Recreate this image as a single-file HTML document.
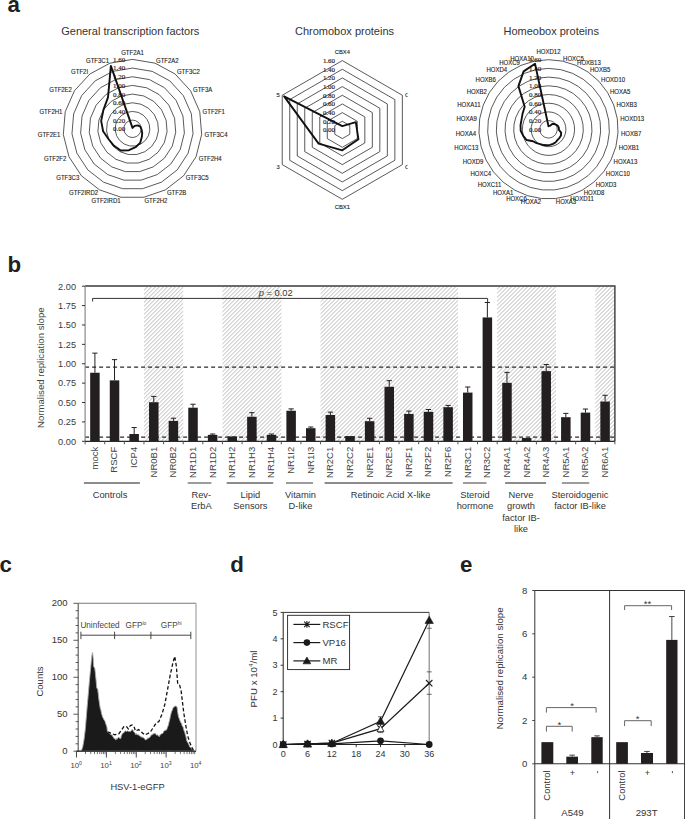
<!DOCTYPE html>
<html><head><meta charset="utf-8"><style>
html,body{margin:0;padding:0;background:#fff;}
svg{display:block;font-family:"Liberation Sans", sans-serif;}
</style></head><body>
<svg width="685" height="819" viewBox="0 0 685 819">
<rect width="685" height="819" fill="#fff"/>
<text x="7.6" y="12" font-size="22.3" font-weight="bold" fill="#231f20">a</text>
<text x="7.5" y="271.7" font-size="22.3" font-weight="bold" fill="#231f20">b</text>
<text x="-0.5" y="571.7" font-size="22.3" font-weight="bold" fill="#231f20">c</text>
<text x="230.3" y="571.7" font-size="22.3" font-weight="bold" fill="#231f20">d</text>
<text x="460.1" y="571.7" font-size="22.3" font-weight="bold" fill="#231f20">e</text>
<text x="130.3" y="35.2" font-size="11" text-anchor="middle" fill="#333">General transcription factors</text>
<polygon points="132.5,120.13 135.32,120.6 137.83,121.95 139.76,124.06 140.91,126.67 141.15,129.52 140.44,132.28 138.88,134.68 136.63,136.43 133.93,137.36 131.07,137.36 128.37,136.43 126.12,134.68 124.56,132.28 123.85,129.52 124.09,126.67 125.24,124.06 127.17,121.95 129.68,120.6" fill="none" stroke="#222" stroke-width="0.75"/>
<polygon points="132.5,111.45 138.13,112.39 143.16,115.11 147.02,119.31 149.32,124.54 149.79,130.23 148.39,135.77 145.26,140.55 140.76,144.06 135.36,145.91 129.64,145.91 124.24,144.06 119.74,140.55 116.61,135.77 115.21,130.23 115.68,124.54 117.98,119.31 121.84,115.11 126.87,112.39" fill="none" stroke="#222" stroke-width="0.75"/>
<polygon points="132.5,102.78 140.95,104.19 148.48,108.26 154.29,114.57 157.73,122.41 158.44,130.95 156.33,139.25 151.65,146.43 144.89,151.69 136.78,154.47 128.22,154.47 120.11,151.69 113.35,146.43 108.67,139.25 106.56,130.95 107.27,122.41 110.71,114.57 116.52,108.26 124.05,104.19" fill="none" stroke="#222" stroke-width="0.75"/>
<polygon points="132.5,94.1 143.77,95.98 153.81,101.42 161.55,109.82 166.14,120.28 167.08,131.67 164.28,142.74 158.03,152.3 149.02,159.32 138.21,163.03 126.79,163.03 115.98,159.32 106.97,152.3 100.72,142.74 97.92,131.67 98.86,120.28 103.45,109.82 111.19,101.42 121.23,95.98" fill="none" stroke="#222" stroke-width="0.75"/>
<polygon points="132.5,85.43 146.58,87.78 159.14,94.57 168.81,105.08 174.55,118.15 175.73,132.38 172.22,146.22 164.41,158.18 153.14,166.95 139.64,171.58 125.36,171.58 111.86,166.95 100.59,158.18 92.78,146.22 89.27,132.38 90.45,118.15 96.19,105.08 105.86,94.57 118.42,87.78" fill="none" stroke="#222" stroke-width="0.75"/>
<polygon points="132.5,76.75 149.4,79.57 164.47,87.73 176.07,100.33 182.96,116.02 184.37,133.1 180.17,149.71 170.79,164.05 157.27,174.58 141.07,180.14 123.93,180.14 107.73,174.58 94.21,164.05 84.83,149.71 80.63,133.1 82.04,116.02 88.93,100.33 100.53,87.73 115.6,79.57" fill="none" stroke="#222" stroke-width="0.75"/>
<polygon points="132.5,68.08 152.22,71.37 169.8,80.88 183.34,95.59 191.37,113.89 193.02,133.81 188.11,153.19 177.18,169.93 161.4,182.21 142.5,188.7 122.5,188.7 103.6,182.21 87.82,169.93 76.89,153.19 71.98,133.81 73.63,113.89 81.66,95.59 95.2,80.88 112.78,71.37" fill="none" stroke="#222" stroke-width="0.75"/>
<polygon points="132.5,59.4 155.03,63.16 175.13,74.03 190.6,90.84 199.78,111.76 201.66,134.53 196.05,156.68 183.56,175.8 165.53,189.84 143.92,197.25 121.08,197.25 99.47,189.84 81.44,175.8 68.95,156.68 63.34,134.53 65.22,111.76 74.4,90.84 89.87,74.03 109.97,63.16" fill="none" stroke="#222" stroke-width="0.75"/>
<text x="125.3" y="131.2" font-family='"Liberation Serif", serif' font-size="6.6" textLength="12.2" lengthAdjust="spacingAndGlyphs" text-anchor="end" fill="#1e1e1e" stroke="#1e1e1e" stroke-width="0.15">0.00</text>
<text x="125.3" y="122.53" font-family='"Liberation Serif", serif' font-size="6.6" textLength="12.2" lengthAdjust="spacingAndGlyphs" text-anchor="end" fill="#1e1e1e" stroke="#1e1e1e" stroke-width="0.15">0.20</text>
<text x="125.3" y="113.85" font-family='"Liberation Serif", serif' font-size="6.6" textLength="12.2" lengthAdjust="spacingAndGlyphs" text-anchor="end" fill="#1e1e1e" stroke="#1e1e1e" stroke-width="0.15">0.40</text>
<text x="125.3" y="105.18" font-family='"Liberation Serif", serif' font-size="6.6" textLength="12.2" lengthAdjust="spacingAndGlyphs" text-anchor="end" fill="#1e1e1e" stroke="#1e1e1e" stroke-width="0.15">0.60</text>
<text x="125.3" y="96.5" font-family='"Liberation Serif", serif' font-size="6.6" textLength="12.2" lengthAdjust="spacingAndGlyphs" text-anchor="end" fill="#1e1e1e" stroke="#1e1e1e" stroke-width="0.15">0.80</text>
<text x="125.3" y="87.83" font-family='"Liberation Serif", serif' font-size="6.6" textLength="12.2" lengthAdjust="spacingAndGlyphs" text-anchor="end" fill="#1e1e1e" stroke="#1e1e1e" stroke-width="0.15">1.00</text>
<text x="125.3" y="79.15" font-family='"Liberation Serif", serif' font-size="6.6" textLength="12.2" lengthAdjust="spacingAndGlyphs" text-anchor="end" fill="#1e1e1e" stroke="#1e1e1e" stroke-width="0.15">1.20</text>
<text x="125.3" y="70.48" font-family='"Liberation Serif", serif' font-size="6.6" textLength="12.2" lengthAdjust="spacingAndGlyphs" text-anchor="end" fill="#1e1e1e" stroke="#1e1e1e" stroke-width="0.15">1.40</text>
<text x="125.3" y="61.8" font-family='"Liberation Serif", serif' font-size="6.6" textLength="12.2" lengthAdjust="spacingAndGlyphs" text-anchor="end" fill="#1e1e1e" stroke="#1e1e1e" stroke-width="0.15">1.60</text>
<polygon points="132.5,127.93 133.06,127.16 134.82,125.82 137.8,125.34 140.49,126.78 141.58,129.55 142.23,133.07 141.75,137.32 140.14,142.91 135.57,147.2 128.93,150.19 120.73,150.54 113.99,145.84 108.67,139.25 103.11,131.24 101.17,120.87 103.45,109.82 107.99,97.31 110.88,65.83" fill="none" stroke="#111" stroke-width="1.9" stroke-linejoin="round"/>
<text x="132.5" y="54.5" font-size="6.48" textLength="22.67" lengthAdjust="spacingAndGlyphs" text-anchor="middle" fill="#222" stroke="#222" stroke-width="0.12">GTF2A1</text>
<text x="155.98" y="63.12" font-size="6.48" textLength="22.67" lengthAdjust="spacingAndGlyphs" text-anchor="start" fill="#222" stroke="#222" stroke-width="0.12">GTF2A2</text>
<text x="176.91" y="74.45" font-size="6.48" textLength="23" lengthAdjust="spacingAndGlyphs" text-anchor="start" fill="#222" stroke="#222" stroke-width="0.12">GTF3C2</text>
<text x="193.03" y="91.96" font-size="6.48" textLength="19.34" lengthAdjust="spacingAndGlyphs" text-anchor="start" fill="#222" stroke="#222" stroke-width="0.12">GTF3A</text>
<text x="202.59" y="113.75" font-size="6.48" textLength="22.33" lengthAdjust="spacingAndGlyphs" text-anchor="start" fill="#222" stroke="#222" stroke-width="0.12">GTF2F1</text>
<text x="204.55" y="137.47" font-size="6.48" textLength="23" lengthAdjust="spacingAndGlyphs" text-anchor="start" fill="#222" stroke="#222" stroke-width="0.12">GTF3C4</text>
<text x="198.71" y="160.54" font-size="6.48" textLength="23" lengthAdjust="spacingAndGlyphs" text-anchor="start" fill="#222" stroke="#222" stroke-width="0.12">GTF2H4</text>
<text x="185.69" y="180.47" font-size="6.48" textLength="23" lengthAdjust="spacingAndGlyphs" text-anchor="start" fill="#222" stroke="#222" stroke-width="0.12">GTF3C5</text>
<text x="166.91" y="195.09" font-size="6.48" textLength="19.34" lengthAdjust="spacingAndGlyphs" text-anchor="start" fill="#222" stroke="#222" stroke-width="0.12">GTF2B</text>
<text x="144.4" y="202.81" font-size="6.48" textLength="23" lengthAdjust="spacingAndGlyphs" text-anchor="start" fill="#222" stroke="#222" stroke-width="0.12">GTF2H2</text>
<text x="120.6" y="202.81" font-size="6.48" textLength="29" lengthAdjust="spacingAndGlyphs" text-anchor="end" fill="#222" stroke="#222" stroke-width="0.12">GTF2IRD1</text>
<text x="98.09" y="195.09" font-size="6.48" textLength="29" lengthAdjust="spacingAndGlyphs" text-anchor="end" fill="#222" stroke="#222" stroke-width="0.12">GTF2IRD2</text>
<text x="79.31" y="180.47" font-size="6.48" textLength="23" lengthAdjust="spacingAndGlyphs" text-anchor="end" fill="#222" stroke="#222" stroke-width="0.12">GTF3C3</text>
<text x="66.29" y="160.54" font-size="6.48" textLength="22.33" lengthAdjust="spacingAndGlyphs" text-anchor="end" fill="#222" stroke="#222" stroke-width="0.12">GTF2F2</text>
<text x="60.45" y="137.47" font-size="6.48" textLength="22.67" lengthAdjust="spacingAndGlyphs" text-anchor="end" fill="#222" stroke="#222" stroke-width="0.12">GTF2E1</text>
<text x="62.41" y="113.75" font-size="6.48" textLength="23" lengthAdjust="spacingAndGlyphs" text-anchor="end" fill="#222" stroke="#222" stroke-width="0.12">GTF2H1</text>
<text x="71.97" y="91.96" font-size="6.48" textLength="22.67" lengthAdjust="spacingAndGlyphs" text-anchor="end" fill="#222" stroke="#222" stroke-width="0.12">GTF2E2</text>
<text x="88.09" y="74.45" font-size="6.48" textLength="17" lengthAdjust="spacingAndGlyphs" text-anchor="end" fill="#222" stroke="#222" stroke-width="0.12">GTF2I</text>
<text x="109.02" y="63.12" font-size="6.48" textLength="23" lengthAdjust="spacingAndGlyphs" text-anchor="end" fill="#222" stroke="#222" stroke-width="0.12">GTF3C1</text>
<defs><clipPath id="cbxclip"><rect x="276.3" y="40" width="131.2" height="180"/></clipPath></defs>
<text x="344.5" y="35.2" font-size="11" text-anchor="middle" fill="#333">Chromobox proteins</text>
<g clip-path="url(#cbxclip)">
<polygon points="342.3,121.28 349.81,125.61 349.81,134.28 342.3,138.62 334.79,134.28 334.79,125.61" fill="none" stroke="#222" stroke-width="0.75"/>
<polygon points="342.3,112.61 357.32,121.28 357.32,138.62 342.3,147.29 327.28,138.62 327.28,121.28" fill="none" stroke="#222" stroke-width="0.75"/>
<polygon points="342.3,103.94 364.83,116.94 364.83,142.95 342.3,155.96 319.77,142.96 319.77,116.94" fill="none" stroke="#222" stroke-width="0.75"/>
<polygon points="342.3,95.27 372.33,112.61 372.33,147.29 342.3,164.63 312.27,147.29 312.27,112.61" fill="none" stroke="#222" stroke-width="0.75"/>
<polygon points="342.3,86.6 379.84,108.27 379.84,151.62 342.3,173.3 304.76,151.62 304.76,108.27" fill="none" stroke="#222" stroke-width="0.75"/>
<polygon points="342.3,77.93 387.35,103.94 387.35,155.96 342.3,181.97 297.25,155.96 297.25,103.94" fill="none" stroke="#222" stroke-width="0.75"/>
<polygon points="342.3,69.26 394.86,99.6 394.86,160.29 342.3,190.64 289.74,160.3 289.74,99.6" fill="none" stroke="#222" stroke-width="0.75"/>
<polygon points="342.3,60.59 402.37,95.27 402.37,164.63 342.3,199.31 282.23,164.63 282.23,95.27" fill="none" stroke="#222" stroke-width="0.75"/>
<text x="335.1" y="132.35" font-family='"Liberation Serif", serif' font-size="6.6" textLength="12.2" lengthAdjust="spacingAndGlyphs" text-anchor="end" fill="#1e1e1e" stroke="#1e1e1e" stroke-width="0.15">0.00</text>
<text x="335.1" y="123.68" font-family='"Liberation Serif", serif' font-size="6.6" textLength="12.2" lengthAdjust="spacingAndGlyphs" text-anchor="end" fill="#1e1e1e" stroke="#1e1e1e" stroke-width="0.15">0.20</text>
<text x="335.1" y="115.01" font-family='"Liberation Serif", serif' font-size="6.6" textLength="12.2" lengthAdjust="spacingAndGlyphs" text-anchor="end" fill="#1e1e1e" stroke="#1e1e1e" stroke-width="0.15">0.40</text>
<text x="335.1" y="106.34" font-family='"Liberation Serif", serif' font-size="6.6" textLength="12.2" lengthAdjust="spacingAndGlyphs" text-anchor="end" fill="#1e1e1e" stroke="#1e1e1e" stroke-width="0.15">0.60</text>
<text x="335.1" y="97.67" font-family='"Liberation Serif", serif' font-size="6.6" textLength="12.2" lengthAdjust="spacingAndGlyphs" text-anchor="end" fill="#1e1e1e" stroke="#1e1e1e" stroke-width="0.15">0.80</text>
<text x="335.1" y="89" font-family='"Liberation Serif", serif' font-size="6.6" textLength="12.2" lengthAdjust="spacingAndGlyphs" text-anchor="end" fill="#1e1e1e" stroke="#1e1e1e" stroke-width="0.15">1.00</text>
<text x="335.1" y="80.33" font-family='"Liberation Serif", serif' font-size="6.6" textLength="12.2" lengthAdjust="spacingAndGlyphs" text-anchor="end" fill="#1e1e1e" stroke="#1e1e1e" stroke-width="0.15">1.20</text>
<text x="335.1" y="71.66" font-family='"Liberation Serif", serif' font-size="6.6" textLength="12.2" lengthAdjust="spacingAndGlyphs" text-anchor="end" fill="#1e1e1e" stroke="#1e1e1e" stroke-width="0.15">1.40</text>
<text x="335.1" y="62.99" font-family='"Liberation Serif", serif' font-size="6.6" textLength="12.2" lengthAdjust="spacingAndGlyphs" text-anchor="end" fill="#1e1e1e" stroke="#1e1e1e" stroke-width="0.15">1.60</text>
<polygon points="342.3,126.05 355.82,122.15 358.44,139.27 342.3,150.32 318.65,143.61 284.11,96.35" fill="none" stroke="#111" stroke-width="1.9" stroke-linejoin="round"/>
<text x="342.3" y="54.19" font-size="6.26" textLength="15.15" lengthAdjust="spacingAndGlyphs" text-anchor="middle" fill="#222" stroke="#222" stroke-width="0.12">CBX4</text>
<text x="404.88" y="96.52" font-size="6.26" textLength="15.15" lengthAdjust="spacingAndGlyphs" text-anchor="start" fill="#222" stroke="#222" stroke-width="0.12">CBX2</text>
<text x="404.88" y="168.78" font-size="6.26" textLength="15.15" lengthAdjust="spacingAndGlyphs" text-anchor="start" fill="#222" stroke="#222" stroke-width="0.12">CBX8</text>
<text x="342.3" y="209.21" font-size="6.26" textLength="15.15" lengthAdjust="spacingAndGlyphs" text-anchor="middle" fill="#222" stroke="#222" stroke-width="0.12">CBX1</text>
<text x="279.72" y="168.78" font-size="6.26" textLength="15.15" lengthAdjust="spacingAndGlyphs" text-anchor="end" fill="#222" stroke="#222" stroke-width="0.12">CBX3</text>
<text x="279.72" y="96.52" font-size="6.26" textLength="15.15" lengthAdjust="spacingAndGlyphs" text-anchor="end" fill="#222" stroke="#222" stroke-width="0.12">CBX5</text>
</g>
<text x="551.2" y="35.2" font-size="11" text-anchor="middle" fill="#333">Homeobox proteins</text>
<polygon points="548.5,120.6 550.25,120.78 551.93,121.31 553.47,122.16 554.81,123.31 555.88,124.7 556.66,126.28 557.1,127.98 557.19,129.74 556.92,131.48 556.31,133.13 555.38,134.63 554.17,135.9 552.72,136.91 551.1,137.6 549.38,137.96 547.62,137.96 545.9,137.6 544.28,136.91 542.83,135.9 541.62,134.63 540.69,133.13 540.08,131.48 539.81,129.74 539.9,127.98 540.34,126.28 541.12,124.7 542.19,123.31 543.53,122.16 545.07,121.31 546.75,120.78" fill="none" stroke="#222" stroke-width="0.75"/>
<polygon points="548.5,111.9 552,112.26 555.36,113.31 558.44,115.02 561.11,117.31 563.27,120.1 564.82,123.26 565.7,126.67 565.88,130.18 565.34,133.66 564.12,136.96 562.26,139.95 559.83,142.5 556.94,144.51 553.71,145.9 550.26,146.61 546.74,146.61 543.29,145.9 540.06,144.51 537.17,142.5 534.74,139.95 532.88,136.96 531.66,133.66 531.12,130.18 531.3,126.67 532.18,123.26 533.73,120.1 535.89,117.31 538.56,115.02 541.64,113.31 545,112.26" fill="none" stroke="#222" stroke-width="0.75"/>
<polygon points="548.5,103.2 553.75,103.73 558.79,105.32 563.41,107.88 567.42,111.32 570.65,115.49 572.98,120.24 574.3,125.35 574.57,130.62 573.77,135.84 571.93,140.79 569.14,145.28 565.5,149.1 561.17,152.12 556.31,154.2 551.14,155.27 545.86,155.27 540.69,154.2 535.83,152.12 531.5,149.1 527.86,145.28 525.07,140.79 523.23,135.84 522.43,130.62 522.7,125.35 524.02,120.24 526.35,115.49 529.58,111.32 533.59,107.88 538.21,105.32 543.25,103.73" fill="none" stroke="#222" stroke-width="0.75"/>
<polygon points="548.5,94.5 555.51,95.21 562.22,97.32 568.38,100.74 573.72,105.32 578.03,110.89 581.13,117.21 582.9,124.03 583.26,131.06 582.19,138.02 579.74,144.63 576.02,150.6 571.17,155.7 565.39,159.73 558.92,162.5 552.02,163.92 544.98,163.92 538.08,162.5 531.61,159.73 525.83,155.7 520.98,150.6 517.26,144.63 514.81,138.02 513.74,131.06 514.1,124.03 515.87,117.21 518.97,110.89 523.28,105.32 528.62,100.74 534.78,97.32 541.49,95.21" fill="none" stroke="#222" stroke-width="0.75"/>
<polygon points="548.5,85.8 557.26,86.69 565.65,89.33 573.35,93.6 580.03,99.33 585.42,106.29 589.29,114.19 591.5,122.71 591.94,131.5 590.61,140.2 587.55,148.46 582.9,155.93 576.83,162.31 569.61,167.33 561.52,170.81 552.9,172.58 544.1,172.58 535.48,170.81 527.39,167.33 520.17,162.31 514.1,155.93 509.45,148.46 506.39,140.2 505.06,131.5 505.5,122.71 507.71,114.19 511.58,106.29 516.97,99.33 523.65,93.6 531.35,89.33 539.74,86.69" fill="none" stroke="#222" stroke-width="0.75"/>
<polygon points="548.5,77.1 559.01,78.17 569.09,81.33 578.32,86.46 586.33,93.34 592.8,101.69 597.45,111.17 600.1,121.4 600.63,131.94 599.03,142.38 595.37,152.29 589.78,161.25 582.5,168.91 573.83,174.94 564.13,179.11 553.78,181.23 543.22,181.23 532.87,179.11 523.17,174.94 514.5,168.91 507.22,161.25 501.63,152.29 497.97,142.38 496.37,131.94 496.9,121.4 499.55,111.17 504.2,101.69 510.67,93.34 518.68,86.46 527.91,81.33 537.99,78.17" fill="none" stroke="#222" stroke-width="0.75"/>
<polygon points="548.5,68.4 560.76,69.65 572.52,73.34 583.29,79.32 592.64,87.34 600.18,97.09 605.61,108.15 608.7,120.08 609.32,132.38 607.46,144.56 603.18,156.12 596.66,166.58 588.17,175.51 578.05,182.55 566.73,187.41 554.66,189.89 542.34,189.89 530.27,187.41 518.95,182.55 508.83,175.51 500.34,166.58 493.82,156.12 489.54,144.56 487.68,132.38 488.3,120.08 491.39,108.15 496.82,97.09 504.36,87.34 513.71,79.32 524.48,73.34 536.24,69.65" fill="none" stroke="#222" stroke-width="0.75"/>
<polygon points="548.5,59.7 562.51,61.12 575.95,65.34 588.26,72.17 598.95,81.35 607.57,92.48 613.77,105.13 617.3,118.76 618.01,132.83 615.88,146.75 610.99,159.95 603.54,171.9 593.84,182.11 582.28,190.15 569.34,195.71 555.54,198.54 541.46,198.54 527.66,195.71 514.72,190.15 503.16,182.11 493.46,171.9 486.01,159.95 481.12,146.75 478.99,132.83 479.7,118.76 483.23,105.13 489.43,92.48 498.05,81.35 508.74,72.17 521.05,65.34 534.49,61.12" fill="none" stroke="#222" stroke-width="0.75"/>
<text x="541.3" y="131.7" font-family='"Liberation Serif", serif' font-size="6.6" textLength="12.2" lengthAdjust="spacingAndGlyphs" text-anchor="end" fill="#1e1e1e" stroke="#1e1e1e" stroke-width="0.15">0.00</text>
<text x="541.3" y="123" font-family='"Liberation Serif", serif' font-size="6.6" textLength="12.2" lengthAdjust="spacingAndGlyphs" text-anchor="end" fill="#1e1e1e" stroke="#1e1e1e" stroke-width="0.15">0.20</text>
<text x="541.3" y="114.3" font-family='"Liberation Serif", serif' font-size="6.6" textLength="12.2" lengthAdjust="spacingAndGlyphs" text-anchor="end" fill="#1e1e1e" stroke="#1e1e1e" stroke-width="0.15">0.40</text>
<text x="541.3" y="105.6" font-family='"Liberation Serif", serif' font-size="6.6" textLength="12.2" lengthAdjust="spacingAndGlyphs" text-anchor="end" fill="#1e1e1e" stroke="#1e1e1e" stroke-width="0.15">0.60</text>
<text x="541.3" y="96.9" font-family='"Liberation Serif", serif' font-size="6.6" textLength="12.2" lengthAdjust="spacingAndGlyphs" text-anchor="end" fill="#1e1e1e" stroke="#1e1e1e" stroke-width="0.15">0.80</text>
<text x="541.3" y="88.2" font-family='"Liberation Serif", serif' font-size="6.6" textLength="12.2" lengthAdjust="spacingAndGlyphs" text-anchor="end" fill="#1e1e1e" stroke="#1e1e1e" stroke-width="0.15">1.00</text>
<text x="541.3" y="79.5" font-family='"Liberation Serif", serif' font-size="6.6" textLength="12.2" lengthAdjust="spacingAndGlyphs" text-anchor="end" fill="#1e1e1e" stroke="#1e1e1e" stroke-width="0.15">1.20</text>
<text x="541.3" y="70.8" font-family='"Liberation Serif", serif' font-size="6.6" textLength="12.2" lengthAdjust="spacingAndGlyphs" text-anchor="end" fill="#1e1e1e" stroke="#1e1e1e" stroke-width="0.15">1.40</text>
<text x="541.3" y="62.1" font-family='"Liberation Serif", serif' font-size="6.6" textLength="12.2" lengthAdjust="spacingAndGlyphs" text-anchor="end" fill="#1e1e1e" stroke="#1e1e1e" stroke-width="0.15">1.60</text>
<polygon points="548.5,126.26 549.2,125.89 549.96,125.9 552.23,123.94 554.18,123.91 555.88,124.7 557.88,125.83 558.82,127.72 558.93,129.83 561.13,132.57 561,135.43 559.51,137.82 557.57,139.86 555.68,142.23 553.06,143.83 550.08,144.88 546.87,145.31 543.55,145.07 540.27,144.13 536.6,143.16 533.02,141.28 526.63,140.03 523.23,135.84 520.7,130.71 520.55,125.02 521.58,119.33 522.66,113.19 524.7,106.67 518.43,86.1 523.63,71.34 535.02,63.68" fill="none" stroke="#111" stroke-width="1.9" stroke-linejoin="round"/>
<text x="548.5" y="53.9" font-size="6.48" textLength="24.01" lengthAdjust="spacingAndGlyphs" text-anchor="middle" fill="#222" stroke="#222" stroke-width="0.12">HOXD12</text>
<text x="563.09" y="60.98" font-size="6.48" textLength="20.67" lengthAdjust="spacingAndGlyphs" text-anchor="start" fill="#222" stroke="#222" stroke-width="0.12">HOXC5</text>
<text x="577.09" y="65.38" font-size="6.48" textLength="23.68" lengthAdjust="spacingAndGlyphs" text-anchor="start" fill="#222" stroke="#222" stroke-width="0.12">HOXB13</text>
<text x="589.92" y="72.49" font-size="6.48" textLength="20.34" lengthAdjust="spacingAndGlyphs" text-anchor="start" fill="#222" stroke="#222" stroke-width="0.12">HOXB5</text>
<text x="601.05" y="82.05" font-size="6.48" textLength="24.01" lengthAdjust="spacingAndGlyphs" text-anchor="start" fill="#222" stroke="#222" stroke-width="0.12">HOXD10</text>
<text x="610.03" y="93.65" font-size="6.48" textLength="20.34" lengthAdjust="spacingAndGlyphs" text-anchor="start" fill="#222" stroke="#222" stroke-width="0.12">HOXA5</text>
<text x="616.49" y="106.82" font-size="6.48" textLength="20.34" lengthAdjust="spacingAndGlyphs" text-anchor="start" fill="#222" stroke="#222" stroke-width="0.12">HOXB3</text>
<text x="620.16" y="121.02" font-size="6.48" textLength="24.01" lengthAdjust="spacingAndGlyphs" text-anchor="start" fill="#222" stroke="#222" stroke-width="0.12">HOXD13</text>
<text x="620.91" y="135.67" font-size="6.48" textLength="20.34" lengthAdjust="spacingAndGlyphs" text-anchor="start" fill="#222" stroke="#222" stroke-width="0.12">HOXB7</text>
<text x="618.69" y="150.17" font-size="6.48" textLength="20.34" lengthAdjust="spacingAndGlyphs" text-anchor="start" fill="#222" stroke="#222" stroke-width="0.12">HOXB1</text>
<text x="613.59" y="163.93" font-size="6.48" textLength="23.68" lengthAdjust="spacingAndGlyphs" text-anchor="start" fill="#222" stroke="#222" stroke-width="0.12">HOXA13</text>
<text x="605.83" y="176.38" font-size="6.48" textLength="24.01" lengthAdjust="spacingAndGlyphs" text-anchor="start" fill="#222" stroke="#222" stroke-width="0.12">HOXC10</text>
<text x="595.72" y="187.01" font-size="6.48" textLength="20.67" lengthAdjust="spacingAndGlyphs" text-anchor="start" fill="#222" stroke="#222" stroke-width="0.12">HOXD3</text>
<text x="583.68" y="195.39" font-size="6.48" textLength="20.67" lengthAdjust="spacingAndGlyphs" text-anchor="start" fill="#222" stroke="#222" stroke-width="0.12">HOXD8</text>
<text x="570.2" y="201.18" font-size="6.48" textLength="23.56" lengthAdjust="spacingAndGlyphs" text-anchor="start" fill="#222" stroke="#222" stroke-width="0.12">HOXD11</text>
<text x="555.83" y="204.13" font-size="6.48" textLength="20.34" lengthAdjust="spacingAndGlyphs" text-anchor="start" fill="#222" stroke="#222" stroke-width="0.12">HOXA3</text>
<text x="541.17" y="204.13" font-size="6.48" textLength="20.34" lengthAdjust="spacingAndGlyphs" text-anchor="end" fill="#222" stroke="#222" stroke-width="0.12">HOXA2</text>
<text x="526.8" y="201.18" font-size="6.48" textLength="20.67" lengthAdjust="spacingAndGlyphs" text-anchor="end" fill="#222" stroke="#222" stroke-width="0.12">HOXC6</text>
<text x="513.32" y="195.39" font-size="6.48" textLength="20.34" lengthAdjust="spacingAndGlyphs" text-anchor="end" fill="#222" stroke="#222" stroke-width="0.12">HOXA1</text>
<text x="501.28" y="187.01" font-size="6.48" textLength="23.56" lengthAdjust="spacingAndGlyphs" text-anchor="end" fill="#222" stroke="#222" stroke-width="0.12">HOXC11</text>
<text x="491.17" y="176.38" font-size="6.48" textLength="20.67" lengthAdjust="spacingAndGlyphs" text-anchor="end" fill="#222" stroke="#222" stroke-width="0.12">HOXC4</text>
<text x="483.41" y="163.93" font-size="6.48" textLength="20.67" lengthAdjust="spacingAndGlyphs" text-anchor="end" fill="#222" stroke="#222" stroke-width="0.12">HOXD9</text>
<text x="478.31" y="150.17" font-size="6.48" textLength="24.01" lengthAdjust="spacingAndGlyphs" text-anchor="end" fill="#222" stroke="#222" stroke-width="0.12">HOXC13</text>
<text x="476.09" y="135.67" font-size="6.48" textLength="20.34" lengthAdjust="spacingAndGlyphs" text-anchor="end" fill="#222" stroke="#222" stroke-width="0.12">HOXA4</text>
<text x="476.84" y="121.02" font-size="6.48" textLength="20.34" lengthAdjust="spacingAndGlyphs" text-anchor="end" fill="#222" stroke="#222" stroke-width="0.12">HOXA9</text>
<text x="480.51" y="106.82" font-size="6.48" textLength="23.23" lengthAdjust="spacingAndGlyphs" text-anchor="end" fill="#222" stroke="#222" stroke-width="0.12">HOXA11</text>
<text x="486.97" y="93.65" font-size="6.48" textLength="20.34" lengthAdjust="spacingAndGlyphs" text-anchor="end" fill="#222" stroke="#222" stroke-width="0.12">HOXB2</text>
<text x="495.95" y="82.05" font-size="6.48" textLength="20.34" lengthAdjust="spacingAndGlyphs" text-anchor="end" fill="#222" stroke="#222" stroke-width="0.12">HOXB6</text>
<text x="507.08" y="72.49" font-size="6.48" textLength="20.67" lengthAdjust="spacingAndGlyphs" text-anchor="end" fill="#222" stroke="#222" stroke-width="0.12">HOXD4</text>
<text x="519.91" y="65.38" font-size="6.48" textLength="20.67" lengthAdjust="spacingAndGlyphs" text-anchor="end" fill="#222" stroke="#222" stroke-width="0.12">HOXC9</text>
<text x="533.91" y="60.98" font-size="6.48" textLength="23.68" lengthAdjust="spacingAndGlyphs" text-anchor="end" fill="#222" stroke="#222" stroke-width="0.12">HOXA10</text>
<defs><pattern id="hatch" patternUnits="userSpaceOnUse" width="2.83" height="10" patternTransform="rotate(45)"><line x1="1.41" y1="-1" x2="1.41" y2="11" stroke="#c6c6c6" stroke-width="0.95"/></pattern></defs>
<rect x="143.97" y="287" width="39.24" height="154.3" fill="url(#hatch)"/>
<rect x="222.46" y="287" width="58.87" height="154.3" fill="url(#hatch)"/>
<rect x="320.57" y="287" width="137.36" height="154.3" fill="url(#hatch)"/>
<rect x="497.17" y="287" width="58.87" height="154.3" fill="url(#hatch)"/>
<rect x="595.28" y="287" width="19.62" height="154.3" fill="url(#hatch)"/>
<line x1="85.1" y1="367.24" x2="614.9" y2="367.24" stroke="#2a2a2a" stroke-width="1.25" stroke-dasharray="4,3"/>
<line x1="85.1" y1="437.19" x2="614.9" y2="437.19" stroke="#2a2a2a" stroke-width="1.25" stroke-dasharray="4,3"/>
<rect x="90.16" y="372.75" width="9.5" height="68.55" fill="#231f20"/>
<path d="M94.91,372.75V353.13M92.31,353.13H97.51" stroke="#231f20" stroke-width="1" fill="none"/>
<rect x="109.78" y="380.35" width="9.5" height="60.95" fill="#231f20"/>
<path d="M114.53,380.35V359.64M111.93,359.64H117.13" stroke="#231f20" stroke-width="1" fill="none"/>
<rect x="129.41" y="434.01" width="9.5" height="7.29" fill="#231f20"/>
<path d="M134.16,434.01V427.57M131.56,427.57H136.76" stroke="#231f20" stroke-width="1" fill="none"/>
<rect x="149.03" y="402.21" width="9.5" height="39.09" fill="#231f20"/>
<path d="M153.78,402.21V396.4M151.18,396.4H156.38" stroke="#231f20" stroke-width="1" fill="none"/>
<rect x="168.65" y="420.9" width="9.5" height="20.4" fill="#231f20"/>
<path d="M173.4,420.9V418.19M170.8,418.19H176" stroke="#231f20" stroke-width="1" fill="none"/>
<rect x="188.27" y="407.72" width="9.5" height="33.58" fill="#231f20"/>
<path d="M193.02,407.72V404.23M190.42,404.23H195.62" stroke="#231f20" stroke-width="1" fill="none"/>
<rect x="207.89" y="434.86" width="9.5" height="6.44" fill="#231f20"/>
<path d="M212.64,434.86V434.01M210.04,434.01H215.24" stroke="#231f20" stroke-width="1" fill="none"/>
<rect x="227.52" y="436.41" width="9.5" height="4.89" fill="#231f20"/>
<rect x="247.14" y="416.79" width="9.5" height="24.51" fill="#231f20"/>
<path d="M251.89,416.79V412.68M249.29,412.68H254.49" stroke="#231f20" stroke-width="1" fill="none"/>
<rect x="266.76" y="434.86" width="9.5" height="6.44" fill="#231f20"/>
<path d="M271.51,434.86V434.01M268.91,434.01H274.11" stroke="#231f20" stroke-width="1" fill="none"/>
<rect x="286.38" y="410.75" width="9.5" height="30.55" fill="#231f20"/>
<path d="M291.13,410.75V408.88M288.53,408.88H293.73" stroke="#231f20" stroke-width="1" fill="none"/>
<rect x="306.01" y="428.19" width="9.5" height="13.11" fill="#231f20"/>
<path d="M310.76,428.19V427.03M308.16,427.03H313.36" stroke="#231f20" stroke-width="1" fill="none"/>
<rect x="325.63" y="415.01" width="9.5" height="26.29" fill="#231f20"/>
<path d="M330.38,415.01V412.14M327.78,412.14H332.98" stroke="#231f20" stroke-width="1" fill="none"/>
<rect x="345.25" y="436.1" width="9.5" height="5.2" fill="#231f20"/>
<rect x="364.87" y="421.21" width="9.5" height="20.09" fill="#231f20"/>
<path d="M369.62,421.21V418.27M367.02,418.27H372.22" stroke="#231f20" stroke-width="1" fill="none"/>
<rect x="384.49" y="386.78" width="9.5" height="54.52" fill="#231f20"/>
<path d="M389.24,386.78V380.66M386.64,380.66H391.84" stroke="#231f20" stroke-width="1" fill="none"/>
<rect x="404.12" y="413.92" width="9.5" height="27.38" fill="#231f20"/>
<path d="M408.87,413.92V411.06M406.27,411.06H411.47" stroke="#231f20" stroke-width="1" fill="none"/>
<rect x="423.74" y="411.83" width="9.5" height="29.47" fill="#231f20"/>
<path d="M428.49,411.83V409.5M425.89,409.5H431.09" stroke="#231f20" stroke-width="1" fill="none"/>
<rect x="443.36" y="407.18" width="9.5" height="34.12" fill="#231f20"/>
<path d="M448.11,407.18V405.39M445.51,405.39H450.71" stroke="#231f20" stroke-width="1" fill="none"/>
<rect x="462.98" y="392.6" width="9.5" height="48.7" fill="#231f20"/>
<path d="M467.73,392.6V387.01M465.13,387.01H470.33" stroke="#231f20" stroke-width="1" fill="none"/>
<rect x="482.61" y="317.45" width="9.5" height="123.85" fill="#231f20"/>
<path d="M487.36,317.45V302.49M484.76,302.49H489.96" stroke="#231f20" stroke-width="1" fill="none"/>
<rect x="502.23" y="382.83" width="9.5" height="58.47" fill="#231f20"/>
<path d="M506.98,382.83V372.36M504.38,372.36H509.58" stroke="#231f20" stroke-width="1" fill="none"/>
<rect x="521.85" y="438.04" width="9.5" height="3.26" fill="#231f20"/>
<rect x="541.47" y="371.12" width="9.5" height="70.18" fill="#231f20"/>
<path d="M546.22,371.12V364.53M543.62,364.53H548.82" stroke="#231f20" stroke-width="1" fill="none"/>
<rect x="561.09" y="417.18" width="9.5" height="24.12" fill="#231f20"/>
<path d="M565.84,417.18V413.38M563.24,413.38H568.44" stroke="#231f20" stroke-width="1" fill="none"/>
<rect x="580.72" y="412.61" width="9.5" height="28.69" fill="#231f20"/>
<path d="M585.47,412.61V409.04M582.87,409.04H588.07" stroke="#231f20" stroke-width="1" fill="none"/>
<rect x="600.34" y="401.52" width="9.5" height="39.78" fill="#231f20"/>
<path d="M605.09,401.52V395.31M602.49,395.31H607.69" stroke="#231f20" stroke-width="1" fill="none"/>
<path d="M85.1,286H614.9V441.3" stroke="#3a3a3a" stroke-width="1.4" fill="none"/>
<line x1="85.1" y1="286" x2="85.1" y2="441.3" stroke="#8a8a8a" stroke-width="1.2"/>
<line x1="85.1" y1="441.3" x2="614.9" y2="441.3" stroke="#2a2a2a" stroke-width="1.3"/>
<line x1="82" y1="441.3" x2="85.1" y2="441.3" stroke="#333" stroke-width="1"/>
<text x="76" y="444.6" font-size="9.2" text-anchor="end" fill="#3a3a3a">0.00</text>
<line x1="82" y1="421.91" x2="85.1" y2="421.91" stroke="#333" stroke-width="1"/>
<text x="76" y="425.21" font-size="9.2" text-anchor="end" fill="#3a3a3a">0.25</text>
<line x1="82" y1="402.52" x2="85.1" y2="402.52" stroke="#333" stroke-width="1"/>
<text x="76" y="405.82" font-size="9.2" text-anchor="end" fill="#3a3a3a">0.50</text>
<line x1="82" y1="383.14" x2="85.1" y2="383.14" stroke="#333" stroke-width="1"/>
<text x="76" y="386.44" font-size="9.2" text-anchor="end" fill="#3a3a3a">0.75</text>
<line x1="82" y1="363.75" x2="85.1" y2="363.75" stroke="#333" stroke-width="1"/>
<text x="76" y="367.05" font-size="9.2" text-anchor="end" fill="#3a3a3a">1.00</text>
<line x1="82" y1="344.36" x2="85.1" y2="344.36" stroke="#333" stroke-width="1"/>
<text x="76" y="347.66" font-size="9.2" text-anchor="end" fill="#3a3a3a">1.25</text>
<line x1="82" y1="324.98" x2="85.1" y2="324.98" stroke="#333" stroke-width="1"/>
<text x="76" y="328.28" font-size="9.2" text-anchor="end" fill="#3a3a3a">1.50</text>
<line x1="82" y1="305.59" x2="85.1" y2="305.59" stroke="#333" stroke-width="1"/>
<text x="76" y="308.89" font-size="9.2" text-anchor="end" fill="#3a3a3a">1.75</text>
<line x1="82" y1="286.2" x2="85.1" y2="286.2" stroke="#333" stroke-width="1"/>
<text x="76" y="289.5" font-size="9.2" text-anchor="end" fill="#3a3a3a">2.00</text>
<line x1="85.1" y1="441.3" x2="85.1" y2="444.3" stroke="#555" stroke-width="1"/>
<line x1="104.72" y1="441.3" x2="104.72" y2="444.3" stroke="#555" stroke-width="1"/>
<line x1="124.34" y1="441.3" x2="124.34" y2="444.3" stroke="#555" stroke-width="1"/>
<line x1="143.97" y1="441.3" x2="143.97" y2="444.3" stroke="#555" stroke-width="1"/>
<line x1="163.59" y1="441.3" x2="163.59" y2="444.3" stroke="#555" stroke-width="1"/>
<line x1="183.21" y1="441.3" x2="183.21" y2="444.3" stroke="#555" stroke-width="1"/>
<line x1="202.83" y1="441.3" x2="202.83" y2="444.3" stroke="#555" stroke-width="1"/>
<line x1="222.46" y1="441.3" x2="222.46" y2="444.3" stroke="#555" stroke-width="1"/>
<line x1="242.08" y1="441.3" x2="242.08" y2="444.3" stroke="#555" stroke-width="1"/>
<line x1="261.7" y1="441.3" x2="261.7" y2="444.3" stroke="#555" stroke-width="1"/>
<line x1="281.32" y1="441.3" x2="281.32" y2="444.3" stroke="#555" stroke-width="1"/>
<line x1="300.94" y1="441.3" x2="300.94" y2="444.3" stroke="#555" stroke-width="1"/>
<line x1="320.57" y1="441.3" x2="320.57" y2="444.3" stroke="#555" stroke-width="1"/>
<line x1="340.19" y1="441.3" x2="340.19" y2="444.3" stroke="#555" stroke-width="1"/>
<line x1="359.81" y1="441.3" x2="359.81" y2="444.3" stroke="#555" stroke-width="1"/>
<line x1="379.43" y1="441.3" x2="379.43" y2="444.3" stroke="#555" stroke-width="1"/>
<line x1="399.06" y1="441.3" x2="399.06" y2="444.3" stroke="#555" stroke-width="1"/>
<line x1="418.68" y1="441.3" x2="418.68" y2="444.3" stroke="#555" stroke-width="1"/>
<line x1="438.3" y1="441.3" x2="438.3" y2="444.3" stroke="#555" stroke-width="1"/>
<line x1="457.92" y1="441.3" x2="457.92" y2="444.3" stroke="#555" stroke-width="1"/>
<line x1="477.54" y1="441.3" x2="477.54" y2="444.3" stroke="#555" stroke-width="1"/>
<line x1="497.17" y1="441.3" x2="497.17" y2="444.3" stroke="#555" stroke-width="1"/>
<line x1="516.79" y1="441.3" x2="516.79" y2="444.3" stroke="#555" stroke-width="1"/>
<line x1="536.41" y1="441.3" x2="536.41" y2="444.3" stroke="#555" stroke-width="1"/>
<line x1="556.03" y1="441.3" x2="556.03" y2="444.3" stroke="#555" stroke-width="1"/>
<line x1="575.66" y1="441.3" x2="575.66" y2="444.3" stroke="#555" stroke-width="1"/>
<line x1="595.28" y1="441.3" x2="595.28" y2="444.3" stroke="#555" stroke-width="1"/>
<line x1="614.9" y1="441.3" x2="614.9" y2="444.3" stroke="#555" stroke-width="1"/>
<text transform="translate(97.81,446.8) rotate(-90)" font-size="9.5" text-anchor="end" fill="#444">mock</text>
<text transform="translate(117.43,446.8) rotate(-90)" font-size="9.5" text-anchor="end" fill="#444">RSCF</text>
<text transform="translate(137.06,446.8) rotate(-90)" font-size="9.5" text-anchor="end" fill="#444">ICP4</text>
<text transform="translate(156.68,446.8) rotate(-90)" font-size="9.5" text-anchor="end" fill="#444">NR0B1</text>
<text transform="translate(176.3,446.8) rotate(-90)" font-size="9.5" text-anchor="end" fill="#444">NR0B2</text>
<text transform="translate(195.92,446.8) rotate(-90)" font-size="9.5" text-anchor="end" fill="#444">NR1D1</text>
<text transform="translate(215.54,446.8) rotate(-90)" font-size="9.5" text-anchor="end" fill="#444">NR1D2</text>
<text transform="translate(235.17,446.8) rotate(-90)" font-size="9.5" text-anchor="end" fill="#444">NR1H2</text>
<text transform="translate(254.79,446.8) rotate(-90)" font-size="9.5" text-anchor="end" fill="#444">NR1H3</text>
<text transform="translate(274.41,446.8) rotate(-90)" font-size="9.5" text-anchor="end" fill="#444">NR1H4</text>
<text transform="translate(294.03,446.8) rotate(-90)" font-size="9.5" text-anchor="end" fill="#444">NR1I2</text>
<text transform="translate(313.66,446.8) rotate(-90)" font-size="9.5" text-anchor="end" fill="#444">NR1I3</text>
<text transform="translate(333.28,446.8) rotate(-90)" font-size="9.5" text-anchor="end" fill="#444">NR2C1</text>
<text transform="translate(352.9,446.8) rotate(-90)" font-size="9.5" text-anchor="end" fill="#444">NR2C2</text>
<text transform="translate(372.52,446.8) rotate(-90)" font-size="9.5" text-anchor="end" fill="#444">NR2E1</text>
<text transform="translate(392.14,446.8) rotate(-90)" font-size="9.5" text-anchor="end" fill="#444">NR2E3</text>
<text transform="translate(411.77,446.8) rotate(-90)" font-size="9.5" text-anchor="end" fill="#444">NR2F1</text>
<text transform="translate(431.39,446.8) rotate(-90)" font-size="9.5" text-anchor="end" fill="#444">NR2F2</text>
<text transform="translate(451.01,446.8) rotate(-90)" font-size="9.5" text-anchor="end" fill="#444">NR2F6</text>
<text transform="translate(470.63,446.8) rotate(-90)" font-size="9.5" text-anchor="end" fill="#444">NR3C1</text>
<text transform="translate(490.26,446.8) rotate(-90)" font-size="9.5" text-anchor="end" fill="#444">NR3C2</text>
<text transform="translate(509.88,446.8) rotate(-90)" font-size="9.5" text-anchor="end" fill="#444">NR4A1</text>
<text transform="translate(529.5,446.8) rotate(-90)" font-size="9.5" text-anchor="end" fill="#444">NR4A2</text>
<text transform="translate(549.12,446.8) rotate(-90)" font-size="9.5" text-anchor="end" fill="#444">NR4A3</text>
<text transform="translate(568.74,446.8) rotate(-90)" font-size="9.5" text-anchor="end" fill="#444">NR5A1</text>
<text transform="translate(588.37,446.8) rotate(-90)" font-size="9.5" text-anchor="end" fill="#444">NR5A2</text>
<text transform="translate(607.99,446.8) rotate(-90)" font-size="9.5" text-anchor="end" fill="#444">NR6A1</text>
<path d="M92.6,301.5V298.4H487.6V302" stroke="#333" stroke-width="1" fill="none"/>
<text x="258.7" y="295.6" font-size="9.3" fill="#333"><tspan font-style="italic">p</tspan> = 0.02</text>
<text transform="translate(43.9,367.7) rotate(-90)" font-size="9.6" text-anchor="middle" fill="#444">Normalised replication slope</text>
<line x1="83.9" y1="483" x2="139.9" y2="483" stroke="#666" stroke-width="1.3"/>
<line x1="187.7" y1="483" x2="211.4" y2="483" stroke="#666" stroke-width="1.3"/>
<line x1="226.7" y1="483" x2="273.2" y2="483" stroke="#666" stroke-width="1.3"/>
<line x1="286" y1="483" x2="313" y2="483" stroke="#666" stroke-width="1.3"/>
<line x1="324.6" y1="483" x2="452.6" y2="483" stroke="#666" stroke-width="1.3"/>
<line x1="463" y1="483" x2="486.5" y2="483" stroke="#666" stroke-width="1.3"/>
<line x1="505.1" y1="483" x2="546.1" y2="483" stroke="#666" stroke-width="1.3"/>
<line x1="561.9" y1="483" x2="589.2" y2="483" stroke="#666" stroke-width="1.3"/>
<text x="110" y="497.6" font-size="9.3" text-anchor="middle" fill="#333">Controls</text>
<text x="201.3" y="497.6" font-size="9.3" text-anchor="middle" fill="#333">Rev-</text>
<text x="201.3" y="509.1" font-size="9.3" text-anchor="middle" fill="#333">ErbA</text>
<text x="250.4" y="497.6" font-size="9.3" text-anchor="middle" fill="#333">Lipid</text>
<text x="250.4" y="509.1" font-size="9.3" text-anchor="middle" fill="#333">Sensors</text>
<text x="300.5" y="497.6" font-size="9.3" text-anchor="middle" fill="#333">Vitamin</text>
<text x="300.5" y="509.1" font-size="9.3" text-anchor="middle" fill="#333">D-like</text>
<text x="390.6" y="497.6" font-size="9.3" text-anchor="middle" fill="#333">Retinoic Acid X-like</text>
<text x="475" y="497.6" font-size="9.3" text-anchor="middle" fill="#333">Steroid</text>
<text x="475" y="509.1" font-size="9.3" text-anchor="middle" fill="#333">hormone</text>
<text x="521" y="497.6" font-size="9.3" text-anchor="middle" fill="#333">Nerve</text>
<text x="521" y="509.1" font-size="9.3" text-anchor="middle" fill="#333">growth</text>
<text x="521" y="520.6" font-size="9.3" text-anchor="middle" fill="#333">factor IB-</text>
<text x="521" y="532.1" font-size="9.3" text-anchor="middle" fill="#333">like</text>
<text x="580" y="497.6" font-size="9.3" text-anchor="middle" fill="#333">Steroidogenic</text>
<text x="580" y="509.1" font-size="9.3" text-anchor="middle" fill="#333">factor IB-like</text>
<polygon points="77.3,751.2 77.3,750.4 77.81,750.4 78.33,750.4 78.84,750.4 79.35,750.4 79.86,750.4 80.38,750.4 80.89,750.4 81.4,750.4 82.05,748.7 82.7,747 83.4,743 84.1,739 84.75,733.6 85.4,728.2 86.05,720.15 86.7,712.1 87.4,704.05 88.1,696 88.75,688.6 89.4,681.2 90.1,673.85 90.8,666.5 91.3,661.1 91.8,655.7 92.5,652.4 93.2,658.4 93.7,666.5 94.25,667.5 94.8,668.5 95.35,673.27 95.9,678.6 96.8,688 97.7,689.3 98.25,693.44 98.8,698.7 99.5,703.64 100.2,708.1 100.85,710.12 101.5,713.5 102.15,715.56 102.8,717.5 103.5,718.64 104.2,720.2 104.85,720.84 105.5,722.9 106.2,724.91 106.9,726.9 107.5,732.2 108.03,731.81 108.55,732.79 109.07,732.56 109.6,733.6 110.1,733.27 110.6,734.13 111.1,735.1 111.6,734.9 112.1,734.97 112.6,735.81 113.1,737.13 113.6,737.6 114.14,738.72 114.68,738.52 115.22,738.63 115.76,739.96 116.3,739.6 116.8,738.37 117.3,739.17 117.8,737.76 118.3,737.6 118.8,737.38 119.3,737.69 119.8,738.34 120.3,739 120.8,738.16 121.3,735.79 121.8,735.08 122.3,733.6 122.8,733.47 123.3,732.7 123.8,732.63 124.3,732.2 124.84,731.24 125.38,730.98 125.92,730.95 126.46,731.45 127,730.9 127.54,730.92 128.08,730.88 128.62,731.46 129.16,731.39 129.7,731.6 130.2,730.95 130.7,731.4 131.2,730.92 131.7,729.86 132.2,730.05 132.7,729.6 133.24,730.46 133.78,731.84 134.32,732.43 134.86,732.54 135.4,733.7 135.9,734.72 136.4,733.59 136.9,734.32 137.4,735.11 137.9,734.39 138.4,735.18 138.9,734.71 139.4,735.7 139.9,736.22 140.4,736.62 140.9,736.57 141.4,737.3 141.9,736.65 142.4,737.51 142.9,737.6 143.4,737.7 143.94,738.23 144.48,738.43 145.02,739.44 145.56,740.01 146.1,739.7 146.64,739.26 147.18,739.16 147.72,737.8 148.26,738.42 148.8,737.7 149.34,737.4 149.88,737.41 150.42,736.6 150.96,735.2 151.5,735 152.04,734.56 152.58,734.75 153.12,733.46 153.66,733.9 154.2,733.7 154.74,733.43 155.28,733.61 155.82,733.77 156.36,735.17 156.9,735 157.4,734.76 157.9,735.3 158.4,735.88 158.9,736.4 159.44,736.45 159.98,734.65 160.52,734.7 161.06,734.32 161.6,733.7 162.14,733.77 162.68,733.13 163.22,732.66 163.76,731.19 164.3,731 164.82,730.46 165.34,729.97 165.86,730.41 166.38,730.13 166.9,729 167.6,726.74 168.3,725.6 168.95,722.38 169.6,720.2 170.3,716.42 171,713.5 171.5,711.72 172,710.78 172.5,709.59 173,708.1 173.54,707.32 174.08,706.51 174.62,706.77 175.16,706.29 175.7,706.1 176.35,706.56 177,706.8 177.7,712.22 178.4,716.2 178.9,717.85 179.4,718.92 179.9,720.44 180.4,721.6 180.94,722.96 181.48,723.05 182.02,725.48 182.56,726.37 183.1,727 183.6,729.27 184.1,730.83 184.6,731.85 185.1,733.7 185.6,735.54 186.1,737.07 186.6,739.91 187.1,741.7 187.64,742.08 188.18,743.17 188.72,744.47 189.26,745.48 189.8,747.1 190.35,747.41 190.9,747.52 191.45,748 192,749.37 192.55,749.93 193.1,750.5 193.64,750.62 194.18,750.74 194.72,750.86 195.26,750.98 195.8,751.1 195.8,751.2" fill="#1a1a1a" stroke="#aaa" stroke-width="0.9" stroke-linejoin="round"/>
<polyline points="107.5,732.2 108.2,732.2 112.2,733.6 114.9,734.9 119,733.6 122.3,728.9 123.7,726.9 126.3,726.2 128.3,728.9 130.4,725.5 132.2,725 134.4,727.5 135.4,731 138.7,729.6 144.8,735 150.2,732.3 156.2,722.9 158.9,721.6 162.2,713.5 164.9,704.1 167.6,689.3 170.3,674.6 173,662.5 174.7,656.4 176.4,666.5 177.7,684 179.7,685.3 181.1,690.7 182.4,701.4 183.7,712.2 185.8,725.6 187.8,736.4 190.5,744.4 193.1,749.8 195.8,751.8" fill="none" stroke="#111" stroke-width="1.3" stroke-dasharray="3.6,2.2"/>
<path d="M78.2,603.3H196" stroke="#777" stroke-width="1.1" fill="none"/>
<path d="M196,603.3V751.2" stroke="#aaa" stroke-width="1.3" fill="none"/>
<path d="M78.2,603.3V751.2" stroke="#555" stroke-width="1.1" fill="none"/>
<path d="M76.4,751.2H196" stroke="#222" stroke-width="1.1" fill="none"/>
<line x1="73.4" y1="751.2" x2="78.2" y2="751.2" stroke="#333" stroke-width="0.8"/>
<line x1="75.6" y1="743.81" x2="78.2" y2="743.81" stroke="#333" stroke-width="0.8"/>
<line x1="75.6" y1="736.41" x2="78.2" y2="736.41" stroke="#333" stroke-width="0.8"/>
<line x1="75.6" y1="729.01" x2="78.2" y2="729.01" stroke="#333" stroke-width="0.8"/>
<line x1="75.6" y1="721.62" x2="78.2" y2="721.62" stroke="#333" stroke-width="0.8"/>
<line x1="73.4" y1="714.23" x2="78.2" y2="714.23" stroke="#333" stroke-width="0.8"/>
<line x1="75.6" y1="706.83" x2="78.2" y2="706.83" stroke="#333" stroke-width="0.8"/>
<line x1="75.6" y1="699.44" x2="78.2" y2="699.44" stroke="#333" stroke-width="0.8"/>
<line x1="75.6" y1="692.04" x2="78.2" y2="692.04" stroke="#333" stroke-width="0.8"/>
<line x1="75.6" y1="684.64" x2="78.2" y2="684.64" stroke="#333" stroke-width="0.8"/>
<line x1="73.4" y1="677.25" x2="78.2" y2="677.25" stroke="#333" stroke-width="0.8"/>
<line x1="75.6" y1="669.86" x2="78.2" y2="669.86" stroke="#333" stroke-width="0.8"/>
<line x1="75.6" y1="662.46" x2="78.2" y2="662.46" stroke="#333" stroke-width="0.8"/>
<line x1="75.6" y1="655.07" x2="78.2" y2="655.07" stroke="#333" stroke-width="0.8"/>
<line x1="75.6" y1="647.67" x2="78.2" y2="647.67" stroke="#333" stroke-width="0.8"/>
<line x1="73.4" y1="640.27" x2="78.2" y2="640.27" stroke="#333" stroke-width="0.8"/>
<line x1="75.6" y1="632.88" x2="78.2" y2="632.88" stroke="#333" stroke-width="0.8"/>
<line x1="75.6" y1="625.49" x2="78.2" y2="625.49" stroke="#333" stroke-width="0.8"/>
<line x1="75.6" y1="618.09" x2="78.2" y2="618.09" stroke="#333" stroke-width="0.8"/>
<line x1="75.6" y1="610.69" x2="78.2" y2="610.69" stroke="#333" stroke-width="0.8"/>
<line x1="73.4" y1="603.3" x2="78.2" y2="603.3" stroke="#333" stroke-width="0.8"/>
<text x="67.6" y="753.8" font-size="9.5" text-anchor="end" fill="#333">0</text>
<text x="67.6" y="716.83" font-size="9.5" text-anchor="end" fill="#333">50</text>
<text x="67.6" y="679.85" font-size="9.5" text-anchor="end" fill="#333">100</text>
<text x="67.6" y="642.88" font-size="9.5" text-anchor="end" fill="#333">150</text>
<text x="67.6" y="605.9" font-size="9.5" text-anchor="end" fill="#333">200</text>
<line x1="76.5" y1="751.2" x2="76.5" y2="757.5" stroke="#333" stroke-width="0.9"/>
<text x="76.2" y="768.3" font-size="7.8" text-anchor="middle" fill="#444">10<tspan font-size="5.2" dy="-3.4">0</tspan></text>
<line x1="85.49" y1="751.2" x2="85.49" y2="754.1" stroke="#333" stroke-width="0.7"/>
<line x1="90.76" y1="751.2" x2="90.76" y2="754.1" stroke="#333" stroke-width="0.7"/>
<line x1="94.49" y1="751.2" x2="94.49" y2="754.1" stroke="#333" stroke-width="0.7"/>
<line x1="97.39" y1="751.2" x2="97.39" y2="754.1" stroke="#333" stroke-width="0.7"/>
<line x1="99.75" y1="751.2" x2="99.75" y2="754.1" stroke="#333" stroke-width="0.7"/>
<line x1="101.75" y1="751.2" x2="101.75" y2="754.1" stroke="#333" stroke-width="0.7"/>
<line x1="103.48" y1="751.2" x2="103.48" y2="754.1" stroke="#333" stroke-width="0.7"/>
<line x1="105.01" y1="751.2" x2="105.01" y2="754.1" stroke="#333" stroke-width="0.7"/>
<line x1="106.38" y1="751.2" x2="106.38" y2="757.5" stroke="#333" stroke-width="0.9"/>
<text x="106.08" y="768.3" font-size="7.8" text-anchor="middle" fill="#444">10<tspan font-size="5.2" dy="-3.4">1</tspan></text>
<line x1="115.37" y1="751.2" x2="115.37" y2="754.1" stroke="#333" stroke-width="0.7"/>
<line x1="120.64" y1="751.2" x2="120.64" y2="754.1" stroke="#333" stroke-width="0.7"/>
<line x1="124.37" y1="751.2" x2="124.37" y2="754.1" stroke="#333" stroke-width="0.7"/>
<line x1="127.27" y1="751.2" x2="127.27" y2="754.1" stroke="#333" stroke-width="0.7"/>
<line x1="129.63" y1="751.2" x2="129.63" y2="754.1" stroke="#333" stroke-width="0.7"/>
<line x1="131.63" y1="751.2" x2="131.63" y2="754.1" stroke="#333" stroke-width="0.7"/>
<line x1="133.36" y1="751.2" x2="133.36" y2="754.1" stroke="#333" stroke-width="0.7"/>
<line x1="134.89" y1="751.2" x2="134.89" y2="754.1" stroke="#333" stroke-width="0.7"/>
<line x1="136.26" y1="751.2" x2="136.26" y2="757.5" stroke="#333" stroke-width="0.9"/>
<text x="135.96" y="768.3" font-size="7.8" text-anchor="middle" fill="#444">10<tspan font-size="5.2" dy="-3.4">2</tspan></text>
<line x1="145.25" y1="751.2" x2="145.25" y2="754.1" stroke="#333" stroke-width="0.7"/>
<line x1="150.52" y1="751.2" x2="150.52" y2="754.1" stroke="#333" stroke-width="0.7"/>
<line x1="154.25" y1="751.2" x2="154.25" y2="754.1" stroke="#333" stroke-width="0.7"/>
<line x1="157.15" y1="751.2" x2="157.15" y2="754.1" stroke="#333" stroke-width="0.7"/>
<line x1="159.51" y1="751.2" x2="159.51" y2="754.1" stroke="#333" stroke-width="0.7"/>
<line x1="161.51" y1="751.2" x2="161.51" y2="754.1" stroke="#333" stroke-width="0.7"/>
<line x1="163.24" y1="751.2" x2="163.24" y2="754.1" stroke="#333" stroke-width="0.7"/>
<line x1="164.77" y1="751.2" x2="164.77" y2="754.1" stroke="#333" stroke-width="0.7"/>
<line x1="166.14" y1="751.2" x2="166.14" y2="757.5" stroke="#333" stroke-width="0.9"/>
<text x="165.84" y="768.3" font-size="7.8" text-anchor="middle" fill="#444">10<tspan font-size="5.2" dy="-3.4">3</tspan></text>
<line x1="175.13" y1="751.2" x2="175.13" y2="754.1" stroke="#333" stroke-width="0.7"/>
<line x1="180.4" y1="751.2" x2="180.4" y2="754.1" stroke="#333" stroke-width="0.7"/>
<line x1="184.13" y1="751.2" x2="184.13" y2="754.1" stroke="#333" stroke-width="0.7"/>
<line x1="187.03" y1="751.2" x2="187.03" y2="754.1" stroke="#333" stroke-width="0.7"/>
<line x1="189.39" y1="751.2" x2="189.39" y2="754.1" stroke="#333" stroke-width="0.7"/>
<line x1="191.39" y1="751.2" x2="191.39" y2="754.1" stroke="#333" stroke-width="0.7"/>
<line x1="193.12" y1="751.2" x2="193.12" y2="754.1" stroke="#333" stroke-width="0.7"/>
<line x1="194.65" y1="751.2" x2="194.65" y2="754.1" stroke="#333" stroke-width="0.7"/>
<text x="195.72" y="768.3" font-size="7.8" text-anchor="middle" fill="#444">10<tspan font-size="5.2" dy="-3.4">4</tspan></text>
<path d="M80.9,635.2H190.8M80.9,631.7V639.1M114.6,631.7V639.1M150.9,631.7V639.1M190.8,631.7V639.1" stroke="#333" stroke-width="0.9" fill="none"/>
<text x="80.4" y="628.4" font-size="8.2" fill="#444">Uninfected</text>
<text x="125.6" y="628.4" font-size="8.2" fill="#444">GFP<tspan font-size="5" dy="-3">lo</tspan></text>
<text x="160.8" y="628.4" font-size="8.2" fill="#444">GFP<tspan font-size="5" dy="-3">hi</tspan></text>
<text transform="translate(43.4,681.5) rotate(-90)" font-size="9.5" text-anchor="middle" fill="#333">Counts</text>
<text x="137.5" y="789.5" font-size="9.3" text-anchor="middle" fill="#333">HSV-1-eGFP</text>
<line x1="429.2" y1="612.4" x2="429.2" y2="744.5" stroke="#888" stroke-width="1.2"/>
<path d="M283.2,612.4H429.2" stroke="#222" stroke-width="0.9" fill="none"/>
<path d="M283.2,612.4V744.5H429.2" stroke="#222" stroke-width="1" fill="none"/>
<line x1="280.59999999999997" y1="744.5" x2="283.2" y2="744.5" stroke="#222" stroke-width="0.9"/>
<text x="277.5" y="747.7" font-size="9" text-anchor="end" fill="#333">0</text>
<line x1="280.59999999999997" y1="718.08" x2="283.2" y2="718.08" stroke="#222" stroke-width="0.9"/>
<text x="277.5" y="721.28" font-size="9" text-anchor="end" fill="#333">1</text>
<line x1="280.59999999999997" y1="691.66" x2="283.2" y2="691.66" stroke="#222" stroke-width="0.9"/>
<text x="277.5" y="694.86" font-size="9" text-anchor="end" fill="#333">2</text>
<line x1="280.59999999999997" y1="665.24" x2="283.2" y2="665.24" stroke="#222" stroke-width="0.9"/>
<text x="277.5" y="668.44" font-size="9" text-anchor="end" fill="#333">3</text>
<line x1="280.59999999999997" y1="638.82" x2="283.2" y2="638.82" stroke="#222" stroke-width="0.9"/>
<text x="277.5" y="642.02" font-size="9" text-anchor="end" fill="#333">4</text>
<line x1="280.59999999999997" y1="612.4" x2="283.2" y2="612.4" stroke="#222" stroke-width="0.9"/>
<text x="277.5" y="615.6" font-size="9" text-anchor="end" fill="#333">5</text>
<line x1="283.2" y1="744.5" x2="283.2" y2="747.1" stroke="#222" stroke-width="0.9"/>
<text x="283.2" y="757.2" font-size="9" text-anchor="middle" fill="#333">0</text>
<line x1="307.53" y1="744.5" x2="307.53" y2="747.1" stroke="#222" stroke-width="0.9"/>
<text x="307.53" y="757.2" font-size="9" text-anchor="middle" fill="#333">6</text>
<line x1="331.87" y1="744.5" x2="331.87" y2="747.1" stroke="#222" stroke-width="0.9"/>
<text x="331.87" y="757.2" font-size="9" text-anchor="middle" fill="#333">12</text>
<line x1="356.2" y1="744.5" x2="356.2" y2="747.1" stroke="#222" stroke-width="0.9"/>
<text x="356.2" y="757.2" font-size="9" text-anchor="middle" fill="#333">18</text>
<line x1="380.53" y1="744.5" x2="380.53" y2="747.1" stroke="#222" stroke-width="0.9"/>
<text x="380.53" y="757.2" font-size="9" text-anchor="middle" fill="#333">24</text>
<line x1="404.87" y1="744.5" x2="404.87" y2="747.1" stroke="#222" stroke-width="0.9"/>
<text x="404.87" y="757.2" font-size="9" text-anchor="middle" fill="#333">30</text>
<line x1="429.2" y1="744.5" x2="429.2" y2="747.1" stroke="#222" stroke-width="0.9"/>
<text x="429.2" y="757.2" font-size="9" text-anchor="middle" fill="#333">36</text>
<polyline points="283.2,744.5 307.53,743.97 331.87,743.18 380.53,721.25 429.2,620.33" fill="none" stroke="#1a1a1a" stroke-width="1.2"/>
<polyline points="283.2,744.5 307.53,743.97 331.87,743.18 380.53,728.65 429.2,683.21" fill="none" stroke="#1a1a1a" stroke-width="1.2"/>
<polyline points="283.2,744.5 307.53,743.97 331.87,743.97 380.53,740.8 429.2,744.5" fill="none" stroke="#1a1a1a" stroke-width="1.2"/>
<path d="M380.53,716.76V732.61M378.03,716.76h5M378.03,732.61h5" stroke="#444" stroke-width="0.8" fill="none"/>
<path d="M426.7,671.85h5M426.7,694.3h5M426.7,628.25h5" stroke="#444" stroke-width="0.8" fill="none"/>
<circle cx="283.2" cy="744.5" r="3.4" fill="#1a1a1a"/>
<circle cx="307.53" cy="743.97" r="3.4" fill="#1a1a1a"/>
<circle cx="331.87" cy="743.97" r="3.4" fill="#1a1a1a"/>
<circle cx="380.53" cy="740.8" r="3.4" fill="#1a1a1a"/>
<circle cx="429.2" cy="744.5" r="3.4" fill="#1a1a1a"/>
<path d="M283.2,740.3L287.4,747.65H279Z" fill="#1a1a1a" stroke="#1a1a1a" stroke-width="0.6"/>
<path d="M307.53,739.77L311.73,747.12H303.33Z" fill="#1a1a1a" stroke="#1a1a1a" stroke-width="0.6"/>
<path d="M331.87,738.98L336.07,746.33H327.67Z" fill="#1a1a1a" stroke="#1a1a1a" stroke-width="0.6"/>
<path d="M380.53,717.05L384.73,724.4H376.33Z" fill="#1a1a1a" stroke="#1a1a1a" stroke-width="0.6"/>
<path d="M429.2,616.13L433.4,623.48H425Z" fill="#1a1a1a" stroke="#1a1a1a" stroke-width="0.6"/>
<path d="M280,741.3L286.4,747.7M280,747.7L286.4,741.3" stroke="#1a1a1a" stroke-width="1.1" fill="none"/>
<path d="M304.33,740.77L310.73,747.17M304.33,747.17L310.73,740.77" stroke="#1a1a1a" stroke-width="1.1" fill="none"/>
<path d="M328.67,739.98L335.07,746.38M328.67,746.38L335.07,739.98" stroke="#1a1a1a" stroke-width="1.1" fill="none"/>
<path d="M377.33,725.45L383.73,731.85M377.33,731.85L383.73,725.45" stroke="#1a1a1a" stroke-width="1.1" fill="none"/>
<path d="M426,680.01L432.4,686.41M426,686.41L432.4,680.01" stroke="#1a1a1a" stroke-width="1.1" fill="none"/>
<path d="M377.13,731.65H383.93L380.53,725.15Z" fill="#fff" stroke="#1a1a1a" stroke-width="0.8"/>
<rect x="287.6" y="615.3" width="62" height="54.3" fill="#fff" stroke="#222" stroke-width="0.9"/>
<line x1="293.4" y1="624.4" x2="320.3" y2="624.4" stroke="#1a1a1a" stroke-width="1.2"/>
<text x="322.4" y="627.8" font-size="9.6" fill="#333">RSCF</text>
<line x1="293.4" y1="642.6" x2="320.3" y2="642.6" stroke="#1a1a1a" stroke-width="1.2"/>
<text x="322.4" y="646" font-size="9.6" fill="#333">VP16</text>
<line x1="293.4" y1="660.9" x2="320.3" y2="660.9" stroke="#1a1a1a" stroke-width="1.2"/>
<text x="322.4" y="664.3" font-size="9.6" fill="#333">MR</text>
<path d="M304.1,621.6L309.7,627.2M304.1,627.2L309.7,621.6M306.9,621V627.8" stroke="#1a1a1a" stroke-width="1.1" fill="none"/>
<circle cx="306.9" cy="642.6" r="3.3" fill="#1a1a1a"/>
<path d="M306.9,657L310.8,663.82H303Z" fill="#1a1a1a" stroke="#1a1a1a" stroke-width="0.6"/>
<text transform="translate(256.6,679) rotate(-90)" font-size="9.7" text-anchor="middle" fill="#333">PFU x 10<tspan font-size="6.2" dy="-3.4">4</tspan><tspan dy="3.4">/ml</tspan></text>
<path d="M534.8,819V590.5H686" stroke="#333" stroke-width="1" fill="none"/>
<line x1="609.6" y1="590.5" x2="609.6" y2="819" stroke="#333" stroke-width="1"/>
<line x1="684.5" y1="590.5" x2="684.5" y2="819" stroke="#444" stroke-width="1"/>
<line x1="534.8" y1="763.8" x2="686" y2="763.8" stroke="#333" stroke-width="1.1"/>
<line x1="532.1999999999999" y1="763.8" x2="534.8" y2="763.8" stroke="#333" stroke-width="0.9"/>
<text x="527.3" y="767.1" font-size="9.6" text-anchor="end" fill="#333">0</text>
<line x1="532.1999999999999" y1="720.47" x2="534.8" y2="720.47" stroke="#333" stroke-width="0.9"/>
<text x="527.3" y="723.77" font-size="9.6" text-anchor="end" fill="#333">2</text>
<line x1="532.1999999999999" y1="677.15" x2="534.8" y2="677.15" stroke="#333" stroke-width="0.9"/>
<text x="527.3" y="680.45" font-size="9.6" text-anchor="end" fill="#333">4</text>
<line x1="532.1999999999999" y1="633.83" x2="534.8" y2="633.83" stroke="#333" stroke-width="0.9"/>
<text x="527.3" y="637.12" font-size="9.6" text-anchor="end" fill="#333">6</text>
<line x1="532.1999999999999" y1="590.5" x2="534.8" y2="590.5" stroke="#333" stroke-width="0.9"/>
<text x="527.3" y="593.8" font-size="9.6" text-anchor="end" fill="#333">8</text>
<rect x="541.4" y="742.14" width="11.9" height="21.66" fill="#231f20"/>
<rect x="566.3" y="756.65" width="11.7" height="7.15" fill="#231f20"/>
<path d="M572.15,756.65V755.13M569.35,755.13h5.6" stroke="#333" stroke-width="0.9" fill="none"/>
<rect x="591.3" y="737.16" width="11.4" height="26.64" fill="#231f20"/>
<path d="M597,737.16V735.86M594.2,735.86h5.6" stroke="#333" stroke-width="0.9" fill="none"/>
<rect x="616.2" y="742.14" width="11.7" height="21.66" fill="#231f20"/>
<rect x="641" y="752.97" width="12" height="10.83" fill="#231f20"/>
<path d="M647,752.97V751.45M644.2,751.45h5.6" stroke="#333" stroke-width="0.9" fill="none"/>
<rect x="666.2" y="639.89" width="11.3" height="123.91" fill="#231f20"/>
<path d="M671.85,639.89V616.5M669.05,616.5h5.6" stroke="#333" stroke-width="0.9" fill="none"/>
<path d="M546.4,731.6V726.3H572.2V731.6" stroke="#555" stroke-width="0.9" fill="none"/>
<text x="559.3" y="727.9" font-size="9.6" text-anchor="middle" fill="#333">*</text>
<path d="M546.4,712.6V707.6H596.1V712.6" stroke="#555" stroke-width="0.9" fill="none"/>
<text x="572.2" y="709.2" font-size="9.6" text-anchor="middle" fill="#333">*</text>
<path d="M624.6,726.1V720.7H651.2V726.1" stroke="#555" stroke-width="0.9" fill="none"/>
<text x="637.7" y="722.3" font-size="9.6" text-anchor="middle" fill="#333">*</text>
<path d="M624.6,610V605.7H671.6V610" stroke="#555" stroke-width="0.9" fill="none"/>
<text x="647.6" y="607.3" font-size="9.6" text-anchor="middle" fill="#333">**</text>
<text transform="translate(550,770.4) rotate(-90)" font-size="9.4" text-anchor="end" fill="#333">Control</text>
<text transform="translate(625,770.4) rotate(-90)" font-size="9.4" text-anchor="end" fill="#333">Control</text>
<text x="572.4" y="775.5" font-size="9" text-anchor="middle" fill="#333">+</text>
<text x="647.3" y="775.5" font-size="9" text-anchor="middle" fill="#333">+</text>
<line x1="597.6" y1="771" x2="597.6" y2="773.2" stroke="#333" stroke-width="0.8"/>
<line x1="672.4" y1="771" x2="672.4" y2="773.2" stroke="#333" stroke-width="0.8"/>
<text x="572.5" y="815.6" font-size="9.6" text-anchor="middle" fill="#333">A549</text>
<text x="646.6" y="815.6" font-size="9.6" text-anchor="middle" fill="#333">293T</text>
<text transform="translate(503,668.3) rotate(-90)" font-size="9.7" text-anchor="middle" fill="#333">Normalised replication slope</text>
</svg>
</body></html>
